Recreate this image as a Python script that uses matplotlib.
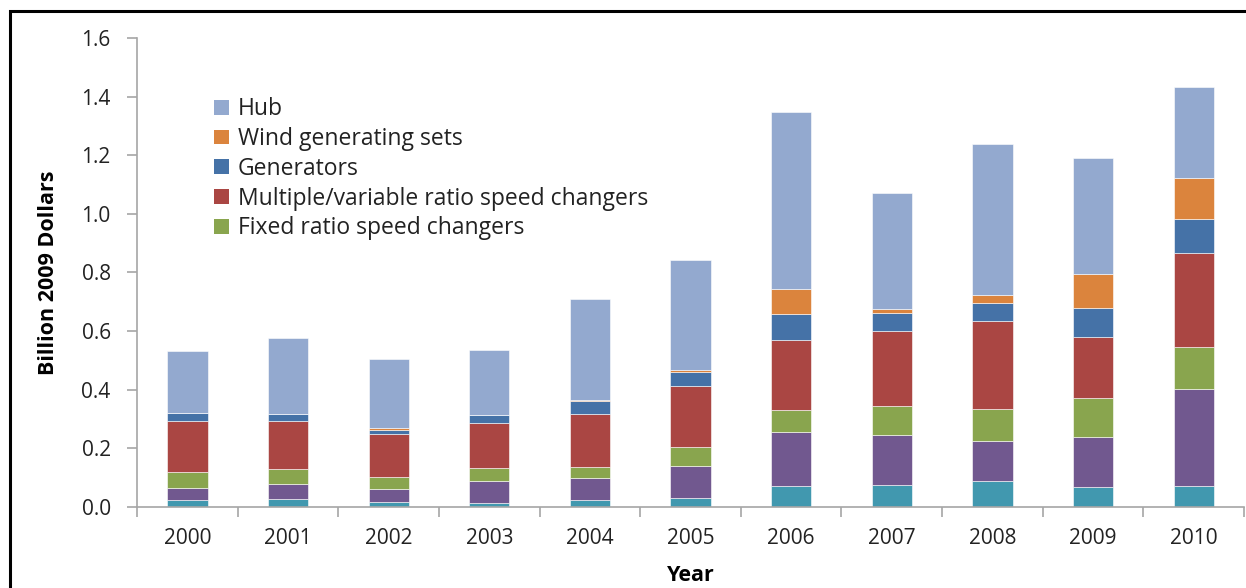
import matplotlib
matplotlib.use("Agg")
import matplotlib.pyplot as plt
from matplotlib.patches import Rectangle, Patch
import numpy as np

plt.rcParams['font.family'] = ['Open Sans', 'DejaVu Sans']

years = ["2000", "2001", "2002", "2003", "2004", "2005",
         "2006", "2007", "2008", "2009", "2010"]

# Stacked components, bottom to top (billion 2009 dollars)
bottom_series = [0.023, 0.027, 0.018, 0.015, 0.023, 0.032, 0.071, 0.075, 0.089, 0.067, 0.072]
second_series = [0.043, 0.053, 0.043, 0.074, 0.075, 0.109, 0.184, 0.171, 0.135, 0.171, 0.329]
fixed_ratio = [0.053, 0.048, 0.040, 0.043, 0.040, 0.062, 0.077, 0.097, 0.109, 0.135, 0.144]
multi_ratio = [0.175, 0.167, 0.149, 0.154, 0.178, 0.210, 0.238, 0.258, 0.300, 0.206, 0.320]
generators = [0.027, 0.021, 0.013, 0.027, 0.045, 0.048, 0.088, 0.061, 0.063, 0.100, 0.117]
wind_sets = [0.000, 0.000, 0.006, 0.000, 0.004, 0.006, 0.087, 0.013, 0.028, 0.115, 0.141]
hub = [0.210, 0.262, 0.236, 0.223, 0.345, 0.375, 0.604, 0.395, 0.516, 0.397, 0.310]

series = [
    (bottom_series, "#4198AF", None),
    (second_series, "#71588F", None),
    (fixed_ratio, "#89A54E", "Fixed ratio speed changers"),
    (multi_ratio, "#AA4643", "Multiple/variable ratio speed changers"),
    (generators, "#4572A7", "Generators"),
    (wind_sets, "#DB843D", "Wind generating sets"),
    (hub, "#93A9CF", "Hub"),
]

fig = plt.figure(figsize=(12.46, 5.88), dpi=100)
ax = fig.add_axes([0.1100, 0.1378, 0.8884, 0.7976])

x = np.arange(len(years))
base = np.zeros(len(years))
handles = []
for values, color, label in series:
    vals = np.array(values)
    ax.bar(x, vals, width=0.4, bottom=base, color=color,
           edgecolor="white", linewidth=0.4)
    base += vals
    if label:
        handles.append(Patch(facecolor=color, label=label))

ax.set_xlim(-0.5, len(years) - 0.5)
ax.set_ylim(0, 1.6)
ax.set_yticks(np.arange(0, 1.61, 0.2))
ax.set_yticklabels([f"{v:.1f}" for v in np.arange(0, 1.61, 0.2)])

# Category ticks sit between the bars
ax.set_xticks(np.arange(-0.5, len(years) + 0.5, 1.0))
ax.set_xticklabels([])
ax.set_xticks(x, minor=True)
ax.set_xticklabels(years, minor=True)
ax.tick_params(axis="x", which="minor", length=0, pad=15, labelsize=15, colors="#222222")
ax.tick_params(axis="x", which="major", length=7, color="#a6a6a6", width=1.2)
ax.tick_params(axis="y", length=7, color="#a6a6a6", width=1.2, labelsize=15,
               pad=12, labelcolor="#222222")

for side in ("top", "right"):
    ax.spines[side].set_visible(False)
for side in ("left", "bottom"):
    ax.spines[side].set_color("#a6a6a6")
    ax.spines[side].set_linewidth(1.2)

ax.set_ylabel("Billion 2009 Dollars", fontsize=15.5, fontweight="bold", labelpad=16)
ax.set_xlabel("Year", fontsize=15.5, fontweight="bold", labelpad=12)

leg = ax.legend(handles=handles[::-1], loc="upper left",
                bbox_to_anchor=(0.0615, 0.893), frameon=False, fontsize=16.5,
                handlelength=0.62, handleheight=0.62, handletextpad=0.4,
                labelspacing=0.25, borderaxespad=0)
for t in leg.get_texts():
    t.set_color("#222222")

# Outer frame around the chart area
fig.patches.append(Rectangle((10 / 1246, -0.05), 1.2, 1 - 11 / 588 + 0.05,
                             transform=fig.transFigure, fill=False,
                             edgecolor="black", linewidth=2.2))

fig.savefig("out.png", dpi=100)
